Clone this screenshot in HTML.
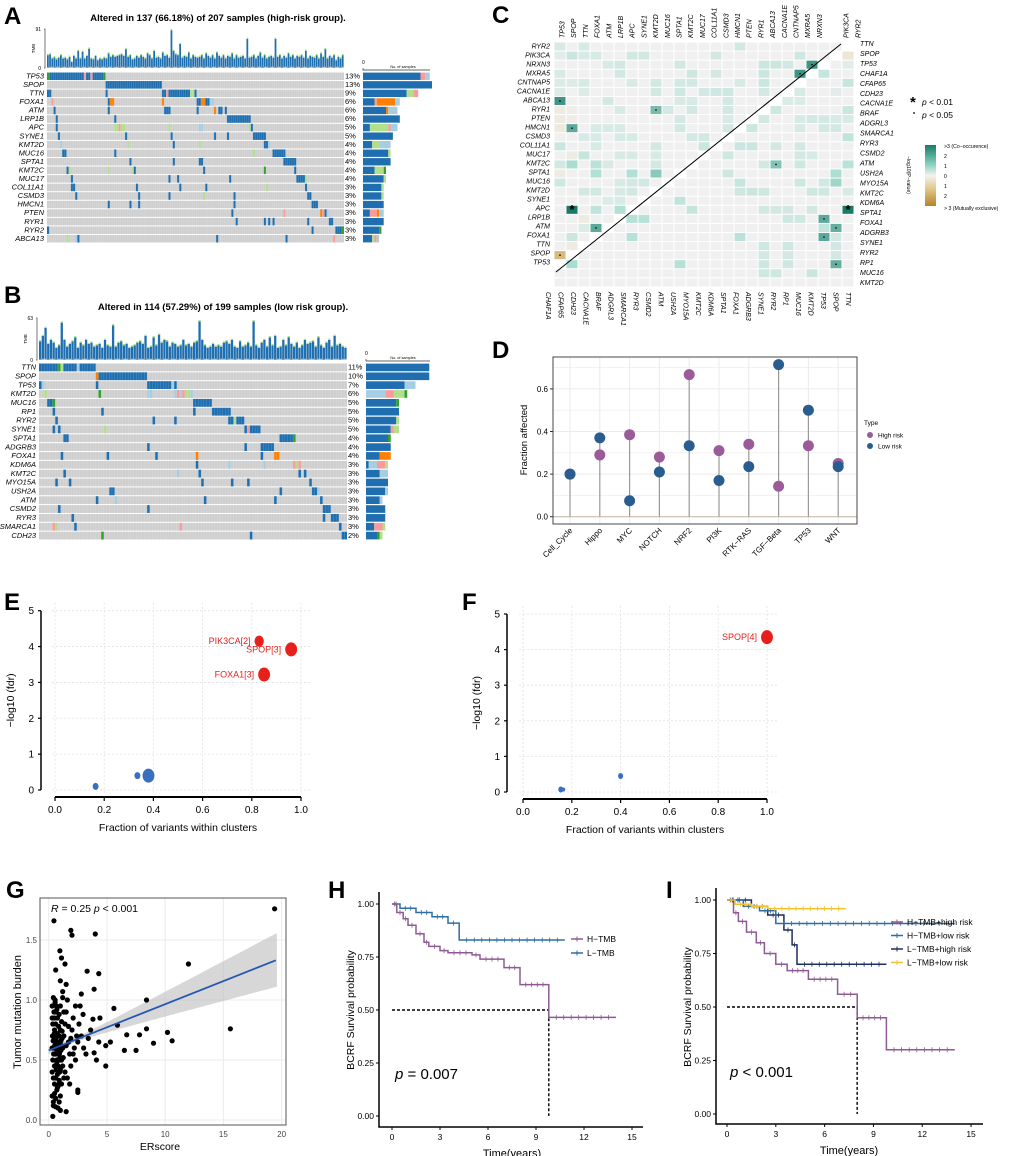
<!DOCTYPE html>
<html><head><meta charset="utf-8">
<style>
html,body{margin:0;padding:0;background:#fff;}
svg{display:block;font-family:"Liberation Sans",Arial,sans-serif;}
.nar{font-family:"Liberation Sans Narrow","Liberation Sans",sans-serif;}
</style></head>
<body>
<svg id="fig" width="1020" height="1156" viewBox="0 0 1020 1156" xmlns="http://www.w3.org/2000/svg">
<g font-weight="bold" font-size="24" fill="#000">
<text x="4" y="24">A</text>
<text x="4" y="303">B</text>
<text x="492" y="23">C</text>
<text x="492" y="358">D</text>
<text x="4" y="610">E</text>
<text x="462" y="610">F</text>
<text x="6" y="898">G</text>
<text x="328" y="898">H</text>
<text x="666" y="898">I</text>
</g>
</svg>
<script>
// ===== DATA =====
const colorMap = {b:'#1f6fb0', l:'#a6cee3', g:'#b2df8a', dg:'#33a02c', p:'#fb9a99', o:'#ff7f00'};
// Panel A
const genesA = ['TP53','SPOP','TTN','FOXA1','ATM','LRP1B','APC','SYNE1','KMT2D','MUC16','SPTA1','KMT2C','MUC17','COL11A1','CSMD3','HMCN1','PTEN','RYR1','RYR2','ABCA13'];
const pctA = ['13%','13%','9%','6%','6%','6%','5%','5%','4%','4%','4%','4%','4%','3%','3%','3%','3%','3%','3%','3%'];
const blocksA = [
 [[0,0,'dg'],[1,26,'b'],[17,17,'p'],[20,20,'p'],[26,26,'dg']],
 [[27,52,'b']],
 [[0,1,'b'],[27,27,'b'],[53,54,'b'],[55,55,'p'],[56,60,'b'],[61,65,'b'],[66,67,'g'],[68,68,'b']],
 [[2,2,'p'],[28,28,'b'],[29,30,'o'],[53,53,'o'],[69,70,'b'],[71,72,'o'],[73,74,'b'],[75,76,'l']],
 [[3,3,'b'],[28,28,'b'],[54,56,'b'],[69,69,'b'],[77,77,'o'],[79,80,'b'],[82,82,'b']],
 [[4,4,'b'],[31,31,'b'],[83,93,'b']],
 [[4,4,'b'],[31,32,'g'],[33,33,'p'],[34,35,'g'],[56,56,'g'],[70,71,'l'],[93,93,'g'],[94,94,'b']],
 [[5,5,'b'],[36,36,'b'],[57,57,'b'],[77,77,'b'],[83,83,'b'],[95,100,'b']],
 [[6,6,'l'],[37,37,'g'],[58,58,'b'],[70,70,'g'],[100,101,'b'],[102,102,'l']],
 [[7,8,'b'],[31,31,'b'],[95,95,'g'],[104,109,'b']],
 [[38,38,'b'],[58,58,'b'],[70,71,'b'],[109,114,'b']],
 [[9,9,'b'],[10,10,'g'],[28,28,'g'],[39,39,'g'],[40,40,'b'],[72,72,'b'],[100,100,'dg'],[114,114,'b']],
 [[11,11,'b'],[56,56,'b'],[60,60,'b'],[84,84,'b'],[115,118,'b'],[119,119,'g']],
 [[11,12,'b'],[41,41,'b'],[61,61,'b'],[73,73,'b'],[101,101,'g'],[119,119,'b']],
 [[13,13,'b'],[42,42,'b'],[56,56,'b'],[72,72,'g'],[86,86,'b'],[120,121,'b']],
 [[28,28,'b'],[38,38,'b'],[42,42,'b'],[86,86,'b'],[122,124,'b']],
 [[85,85,'b'],[109,109,'p'],[126,126,'o'],[127,127,'p'],[128,128,'b'],[129,129,'l']],
 [[87,87,'b'],[100,100,'b'],[102,102,'b'],[104,104,'b'],[120,120,'b'],[130,131,'b']],
 [[0,0,'b'],[122,122,'b'],[133,136,'b'],[136,136,'dg']],
 [[9,9,'g'],[13,13,'l'],[14,14,'b'],[78,78,'b'],[110,110,'b'],[132,132,'p']]
];
const tmbA = [30,32,22,25,20,24,30,22,24,20,26,14,28,22,40,22,38,22,28,45,22,20,28,18,22,20,24,22,34,26,30,26,28,30,32,28,44,26,30,20,22,28,24,30,26,22,34,30,22,40,24,26,22,36,28,30,24,88,40,32,30,56,24,28,26,36,22,30,26,24,26,30,22,34,28,24,30,22,36,28,24,30,22,28,26,34,22,30,24,26,28,22,68,24,26,30,22,28,36,24,30,22,26,28,24,68,26,30,22,28,24,34,26,30,22,28,26,30,24,40,22,28,26,24,30,22,34,26,44,22,28,24,30,18,26,22,30];
const sideA = [['b',25,'p',2,'l',2],['b',30],['b',19,'g',3,'p',2],['b',5,'p',1,'o',8,'l',2],['b',10,'o',1,'l',4],['b',16],['b',3,'g',8,'p',1,'l',3],['b',13],['b',4,'g',3,'l',5],['b',11,'g',1],['b',12],['b',5,'g',4,'dg',1],['b',9,'g',1],['b',8,'g',1],['b',8,'g',1],['b',9],['b',3,'p',3,'o',1,'l',2],['b',9],['b',7,'dg',1],['b',4,'g',1,'p',1,'l',1]];
// Panel B
const genesB = ['TTN','SPOP','TP53','KMT2D','MUC16','RP1','RYR2','SYNE1','SPTA1','ADGRB3','FOXA1','KDM6A','KMT2C','MYO15A','USH2A','ATM','CSMD2','RYR3','SMARCA1','CDH23'];
const pctB = ['11%','10%','7%','6%','5%','5%','5%','5%','4%','4%','4%','3%','3%','3%','3%','3%','3%','3%','3%','2%'];
const blocksB = [
 [[0,6,'b'],[7,7,'dg'],[8,8,'g'],[9,13,'b'],[14,14,'l'],[15,20,'b']],
 [[21,21,'o'],[22,39,'b']],
 [[0,0,'b'],[1,1,'l'],[21,21,'b'],[40,48,'b'],[49,49,'l'],[50,50,'b']],
 [[2,2,'g'],[22,22,'dg'],[40,41,'l'],[50,50,'l'],[51,51,'p'],[52,52,'l'],[53,53,'p'],[54,55,'g'],[56,56,'l']],
 [[3,4,'b'],[5,5,'dg'],[57,63,'b']],
 [[5,5,'b'],[23,23,'b'],[57,57,'b'],[64,70,'b']],
 [[6,6,'b'],[42,42,'b'],[50,50,'b'],[70,71,'b'],[72,72,'g'],[73,75,'b']],
 [[5,5,'b'],[7,7,'b'],[24,24,'g'],[76,76,'b'],[77,77,'p'],[78,81,'b']],
 [[9,10,'b'],[89,93,'b'],[94,94,'dg']],
 [[40,40,'b'],[76,76,'b'],[82,86,'b']],
 [[8,8,'b'],[25,25,'b'],[43,43,'b'],[58,58,'o'],[82,82,'b'],[87,88,'o']],
 [[58,58,'b'],[70,70,'l'],[83,83,'l'],[94,94,'p'],[95,95,'g'],[96,96,'p']],
 [[9,9,'b'],[51,51,'l'],[59,59,'b'],[96,96,'b'],[98,98,'b']],
 [[6,6,'b'],[11,11,'b'],[60,60,'b'],[71,71,'b'],[77,77,'b'],[100,100,'b']],
 [[26,27,'b'],[89,89,'b'],[101,102,'b'],[103,103,'l']],
 [[21,21,'b'],[28,28,'l'],[61,61,'b'],[87,87,'b'],[104,104,'b']],
 [[7,7,'b'],[40,40,'b'],[105,107,'b']],
 [[12,12,'b'],[105,105,'b'],[108,110,'b']],
 [[5,5,'p'],[6,6,'g'],[13,13,'b'],[52,52,'p'],[111,111,'b']],
 [[23,23,'dg'],[78,78,'b'],[112,113,'b']]
];
const tmbB = [28,36,48,24,30,26,18,22,56,30,20,24,28,34,18,26,22,30,24,26,20,22,24,18,30,22,20,52,20,26,28,22,24,18,20,22,26,28,24,36,18,20,34,22,38,26,30,28,20,26,24,20,22,30,22,24,20,26,28,58,30,22,18,20,24,20,22,20,26,28,24,30,20,18,28,20,22,26,20,58,22,18,26,30,20,34,22,36,18,20,30,22,34,24,20,26,18,22,30,24,26,28,20,34,22,18,26,30,20,36,22,24,20,18];
const sideB = [['b',23],['b',23],['b',14,'l',4],['l',7,'p',3,'g',4,'dg',1],['b',11,'dg',1],['b',12],['b',11,'g',1],['b',9,'p',1,'g',2],['b',8,'dg',1],['b',9],['b',5,'o',4],['b',1,'l',3,'p',3,'g',1],['b',5,'l',3],['b',8],['b',7,'l',1],['b',5,'l',1],['b',7],['b',7],['b',3,'p',3,'g',1],['b',4,'dg',1,'g',1]];
// Panel C
const cTopLabels = ['TP53','SPOP','TTN','FOXA1','ATM','LRP1B','APC','SYNE1','KMT2D','MUC16','SPTA1','KMT2C','MUC17','COL11A1','CSMD3','HMCN1','PTEN','RYR1','ABCA13','CACNA1E','CNTNAP5','MXRA5','NRXN3','PIK3CA','RYR2'];
const cLeftLabels = ['RYR2','PIK3CA','NRXN3','MXRA5','CNTNAP5','CACNA1E','ABCA13','RYR1','PTEN','HMCN1','CSMD3','COL11A1','MUC17','KMT2C','SPTA1','MUC16','KMT2D','SYNE1','APC','LRP1B','ATM','FOXA1','TTN','SPOP','TP53'];
const cRightLabels = ['TTN','SPOP','TP53','CHAF1A','CFAP65','CDH23','CACNA1E','BRAF','ADGRL3','SMARCA1','RYR3','CSMD2','ATM','USH2A','MYO15A','KMT2C','KDM6A','SPTA1','FOXA1','ADGRB3','SYNE1','RYR2','RP1','MUC16','KMT2D'];
const cBottomLabels = ['CHAF1A','CFAP65','CDH23','CACNA1E','BRAF','ADGRL3','SMARCA1','RYR3','CSMD2','ATM','USH2A','MYO15A','KMT2C','KDM6A','SPTA1','FOXA1','ADGRB3','SYNE1','RYR2','RP1','MUC16','KMT2D','TP53','SPOP','TTN'];
const hlRow = [0,0,0,1,1,1,1,1,1,1,1,2,2,2,2,2,2,2,3,3,3,3,3,3,4,4,4,4,4,4,4,4,4,5,5,5,5,5,5,5,5,6,6,6,6,6,7,7,7,7,7,7,7,8,8,8,8,9,9,9,9,9,9,9,10,10,10,10,10,10,11,11,11,11,12,12,12,12,12,13,13,13,13,13,14,14,14,14,15,15,15,15,16,16,16,16,17,17,18,18,18,19,20,20,21,22,23,
 1,2,3,4,5,5,6,6,7,7,8,8,8,8,8,8,9,9,9,9,10,11,11,11,11,12,12,12,13,13,13,13,14,14,15,15,15,15,16,16,16,16,16,16,17,18,18,18,18,18,18,19,19,19,19,19,20,20,21,21,21,21,22,22,22,23,23,23,24,24,24,24,24,25,25,25];
const hlCol = [0,2,15,0,1,2,3,6,7,13,20,4,5,10,17,18,19,21,0,5,11,13,17,20,0,1,2,6,8,10,11,15,17,0,2,8,10,12,13,14,17,0,4,10,11,14,0,1,5,8,9,11,14,0,1,10,14,0,1,3,4,5,10,14,2,3,5,6,11,12,0,3,8,12,1,2,5,6,8,0,1,3,4,8,0,3,6,8,0,5,6,7,2,3,5,6,4,5,1,3,5,2,2,3,1,1,0,
 24,24,22,24,20,23,19,20,18,24,17,20,21,22,23,24,16,20,22,23,24,15,16,18,20,14,20,21,17,18,20,24,14,23,15,20,22,23,15,16,17,21,22,24,10,11,17,18,19,21,24,6,7,19,20,22,22,23,6,15,22,23,17,19,23,17,19,23,1,10,17,19,23,17,18,21];
const hlVal = [0.5,0.5,0.6,0.3,0.8,0.5,0.5,0.6,0.6,0.6,0.7,0.5,0.6,0.6,0.8,0.8,0.6,2.6,0.5,0.6,0.7,0.6,0.8,2.6,0.4,0.4,0.5,0.5,0.6,0.6,0.6,0.5,0.8,0.4,0.4,0.6,0.7,0.6,0.7,0.7,0.6,2.6,0.6,0.5,0.5,0.6,-0.3,-0.2,0.5,2.0,0.6,0.6,0.6,-0.3,-0.2,0.6,0.5,-0.4,2.3,0.5,0.5,0.5,0.6,0.6,0.5,0.5,0.5,0.5,0.6,0.6,0.8,0.5,0.6,0.8,-0.3,0.9,0.5,0.5,0.5,0.6,1.5,1.1,0.5,0.6,-0.3,1.3,1.3,1.8,0.7,0.5,0.6,0.6,0.6,0.6,0.5,0.6,0.4,0.5,3.2,1.0,1.3,-0.3,0.4,2.3,0.8,-0.3,-2.0,
 -0.6,0.3,0.9,0.9,0.5,0.3,0.4,0.4,0.7,0.8,0.6,0.5,0.6,0.6,0.5,0.5,0.8,0.5,0.6,0.6,1.0,0.8,0.8,0.6,0.6,0.7,0.6,0.5,0.6,1.9,0.7,1.1,0.7,1.4,0.9,0.7,0.6,1.6,0.7,0.8,0.7,0.7,0.7,0.5,1.0,0.9,0.6,0.6,0.6,0.6,3.2,1.2,1.2,0.7,0.7,2.3,1.0,2.2,1.2,1.1,2.3,0.6,0.7,0.7,0.6,0.6,0.6,0.6,1.5,1.2,0.7,0.7,2.2,0.7,0.7,0.8];
// Panel D
const dCats = ['Cell_Cycle','Hippo','MYC','NOTCH','NRF2','PI3K','RTK\u2212RAS','TGF\u2212Beta','TP53','WNT'];
const dHigh = [0.2,0.29,0.385,0.28,0.667,0.31,0.34,0.143,0.333,0.25];
const dLow = [0.2,0.37,0.075,0.21,0.333,0.17,0.235,0.714,0.5,0.235];
const dTicks = [0,0.2,0.4,0.6];
// Panel E / F
const eX = [0.165,0.335,0.38,0.83,0.96,0.85];
const eY = [0.1,0.4,0.4,4.15,3.92,3.22];
const eSize = [3.5,3.5,7,5.5,7,7];
const eLabel = ['','','','PIK3CA[2]','SPOP[3]','FOXA1[3]'];
const fX = [0.155,0.166,0.40,1.0];
const fY = [0.07,0.07,0.45,4.35];
const fSize = [3,2,3,7];
const fLabel = ['','','','SPOP[4]'];
const efXTicks = [0,0.2,0.4,0.6,0.8,1.0];
const efYTicks = [0,1,2,3,4,5];
// Panel G
const gX = [19.4,0.45,1.9,2.0,4.0,0.96,1.1,0.6,1.4,3.3,4.3,1.0,1.5,2.8,3.9,1.2,12.0,8.4,5.6,15.6,10.2,10.6,9.0,8.4,6.7,7.8,6.5,7.5,5.3,4.9,4.3,3.9,4.1,4.9,2.5,2.5,1.5,1.0,0.35,0.6,3.8,4.4,2.95,2.7,5.9,
 0.3,0.4,0.5,0.6,0.7,0.8,0.9,1.0,0.35,0.45,0.55,0.65,0.75,0.85,0.95,1.1,1.2,1.3,1.4,1.5,1.6,1.7,1.8,1.9,2.0,2.1,2.2,2.3,2.4,0.3,0.4,0.5,0.6,0.7,0.8,0.9,1.0,1.1,1.2,1.3,0.35,0.45,0.55,0.65,0.75,0.85,0.95,1.05,1.15,1.25,0.3,0.5,0.7,0.9,0.4,0.6,0.8,1.0,1.2,0.5,0.7,0.9,1.1,1.3,1.5,1.7,1.9,2.1,2.3,2.5,2.6,2.8,3.0,3.2,3.4,3.6,0.3,0.4,0.6,0.8,1.0,1.4,1.6,1.8,0.5,0.65,0.75,0.95,1.05,1.15,0.32,0.42,0.52,0.62,0.72,0.82,0.92,1.02,0.38,0.48,0.3,0.5,0.7,0.9,1.1,0.4,0.6,0.8,0.55,0.75];
const gY = [1.76,1.66,1.58,1.54,1.55,1.41,1.35,1.25,1.30,1.24,1.22,1.16,1.13,1.05,1.09,1.07,1.30,1.0,0.93,0.76,0.73,0.66,0.64,0.76,0.71,0.71,0.58,0.58,0.65,0.62,0.65,0.56,0.5,0.45,0.25,0.23,0.07,0.08,0.03,0.11,0.84,0.85,0.88,0.95,0.79,
 0.2,0.35,0.45,0.55,0.6,0.65,0.7,0.75,0.8,0.9,1.0,0.95,0.85,0.5,0.4,0.3,0.6,0.7,0.8,0.9,1.0,0.65,0.55,0.45,0.75,0.85,0.6,0.95,0.7,0.6,0.7,0.75,0.8,0.5,0.4,0.3,0.2,0.5,0.45,0.35,0.5,0.6,0.65,0.7,0.72,0.78,0.62,0.58,0.68,0.52,0.4,0.3,0.25,0.15,0.12,0.18,0.1,0.95,1.02,0.85,0.92,0.88,0.82,0.9,0.62,0.78,0.68,0.55,0.5,0.65,0.8,0.7,0.6,0.55,0.68,0.75,0.95,1.02,0.35,0.28,0.42,0.4,0.35,0.3,0.55,0.42,0.38,0.52,0.66,0.74,0.7,0.55,0.62,0.68,0.58,0.6,0.55,0.5,0.66,0.72,0.85,0.22,0.48,0.33,0.62,0.15,0.9,0.45,0.98,0.27];
const gXTicks = [0,5,10,15,20];
const gYTicks = [0,0.5,1.0,1.5];
const gIntercept = 0.58, gSlope = 0.0385;
// Panel H
const kmTicksX = [0,3,6,9,12,15];
const kmTicksY = [0,0.25,0.5,0.75,1.0];
const hHighT = [0,0.3,0.7,1.0,1.5,2.0,2.3,3.0,3.5,5.0,5.5,7.0,8.0,9.8,14];
const hHighS = [1,0.96,0.93,0.90,0.86,0.82,0.80,0.78,0.77,0.76,0.74,0.70,0.62,0.465,0.465];
const hLowT = [0,0.5,1.5,2.5,3.5,4.2,10.8];
const hLowS = [1,0.98,0.96,0.94,0.91,0.83,0.83];
const hMedian = 9.8;
// Panel I
const iHHT = [0,0.4,0.7,1.2,1.8,2.3,3.0,3.7,5.0,6.8,8.0,9.8,14];
const iHHS = [1,0.94,0.90,0.85,0.80,0.75,0.70,0.67,0.63,0.56,0.45,0.30,0.30];
const iHLT = [0,1.0,2.0,3.0,14];
const iHLS = [1,0.97,0.95,0.89,0.89];
const iLHT = [0,1.5,2.5,3.5,4.0,4.3,9.8];
const iLHS = [1,0.97,0.93,0.86,0.79,0.70,0.70];
const iLLT = [0,0.5,1.5,2.5,7.3];
const iLLS = [1,0.98,0.97,0.96,0.96];
const iMedian = 8.0;

// ===== HELPERS =====
const NS = 'http://www.w3.org/2000/svg';
const svg = document.getElementById('fig');
function mk(tag, attrs, parent){
  const e = document.createElementNS(NS, tag);
  for (const k in attrs) e.setAttribute(k, attrs[k]);
  (parent || svg).appendChild(e);
  return e;
}
function tx(x, y, s, attrs, parent){
  const e = mk('text', Object.assign({x:x, y:y}, attrs || {}), parent);
  e.textContent = s;
  return e;
}
function grp(name){
  const g = mk('g', {});
  
  
  return g;
}

// ===== ONCOPLOT =====
function oncoplot(opt){
  const g = grp(opt.name);
  const t = tx(opt.titleX, opt.titleY, opt.title, {'font-size':9.5,'font-weight':'bold','text-anchor':'middle'}, g);
  
  
  const n = opt.n, gx0 = opt.x0, gx1 = opt.x1, cw = (gx1-gx0)/n;
  const rh = (opt.y1-opt.y0)/opt.genes.length;
  // TMB bars
  const tg = mk('g', {}, g);
  
  
  const tScale = v => opt.tmbBase - v/opt.tmbMax*(opt.tmbBase-opt.tmbTop);
  const bw = (gx1-gx0)/opt.tmb.length;
  opt.tmb.forEach((v,i)=>{
    const y = tScale(v), x = gx0 + i*bw;
    const r = mk('rect', {x:x, y:y, width:Math.max(bw-0.4,0.5), height:opt.tmbBase-y, fill:'#1f6fb0'}, tg);
    
    
    const tip = mk('rect', {x:x, y:y-1.3, width:Math.max(bw-0.4,0.5), height:1.3, fill:'#b2df8a'}, tg);
    
    
    const bot = mk('rect', {x:x, y:opt.tmbBase-1.2, width:Math.max(bw-0.4,0.5), height:1.2, fill:(i%3? '#a6cee3':'#ff7f00')}, tg);
    
    
  });
  const ax = mk('path', {d:`M${gx0-3},${opt.tmbTop} H${gx0-2} V${opt.tmbBase} H${gx0-3}`, stroke:'#555', fill:'none', 'stroke-width':0.8}, g);
  
  
  const l1 = tx(gx0-6, opt.tmbTop+2, String(opt.tmbMax), {'font-size':5,'text-anchor':'end'}, g);
  
  
  const l0 = tx(gx0-6, opt.tmbBase+2, '0', {'font-size':5,'text-anchor':'end'}, g);
  
  
  const lt = tx(0, 0, 'TMB', {'font-size':4.5,'text-anchor':'middle', transform:`translate(${gx0-12},${(opt.tmbTop+opt.tmbBase)/2}) rotate(-90)`}, g);
  
  
  // grid rows
  opt.genes.forEach((gn,r)=>{
    const y = opt.y0 + r*rh;
    const bg = mk('rect', {x:gx0, y:y+0.5, width:gx1-gx0, height:rh-1, fill:'#cfcfcf'}, g);
    
    
    opt.blocks[r].forEach(b=>{
      const c = mk('rect', {x:gx0+b[0]*cw, y:y+0.5, width:(b[1]-b[0]+1)*cw, height:rh-1, fill:colorMap[b[2]]}, g);
      
      
    });
    const gl = tx(gx0-3, y+rh*0.75, gn, {'font-size':7.5,'font-style':'italic','text-anchor':'end'}, g);
    
    
    const pl = tx(gx1+1, y+rh*0.75, opt.pct[r], {'font-size':7.5}, g);
    
    
    // side bar
    let sx = opt.sideX;
    const sd = opt.side[r];
    for (let k=0;k<sd.length;k+=2){
      const w = sd[k+1]*opt.sideScale;
      const sr = mk('rect', {x:sx, y:y+0.6, width:w, height:rh-1.2, fill:colorMap[sd[k]]}, g);
      
      
      sx += w;
    }
  });
  // column separators
  const cols = mk('g', {stroke:'#ffffff', 'stroke-opacity':0.35, 'stroke-width':0.35}, g);
  
  
  let d = '';
  for (let i=1;i<n;i++){ const x = gx0+i*cw; d += `M${x.toFixed(2)},${opt.y0} V${opt.y1} `; }
  mk('path', {d:d, fill:'none'}, cols);
  const sa = mk('path', {d:`M${opt.sideX},${opt.sideAxisY-2} V${opt.sideAxisY} H430`, stroke:'#333', 'stroke-width':0.7, fill:'none'}, g);
  
  
  const s0 = tx(opt.sideX-1, opt.sideAxisY-6, '0', {'font-size':5}, g);
  
  
  const st = tx(403, opt.sideAxisY-2, 'No. of samples', {'font-size':3.8,'text-anchor':'middle'}, g);
  
  
}
oncoplot({name:'panel-a-oncoplot', title:'Altered in 137 (66.18%) of 207 samples (high-risk group).', titleX:218, titleY:21,
  n:137, x0:47, x1:344, y0:72, y1:243, genes:genesA, pct:pctA, blocks:blocksA, tmb:tmbA, tmbMax:91, tmbTop:29, tmbBase:68,
  side:sideA, sideX:363, sideScale:2.3, sideAxisY:70});
oncoplot({name:'panel-b-oncoplot', title:'Altered in 114 (57.29%) of 199 samples (low risk group).', titleX:223, titleY:310,
  n:114, x0:39, x1:347, y0:363, y1:540, genes:genesB, pct:pctB, blocks:blocksB, tmb:tmbB, tmbMax:63, tmbTop:318, tmbBase:360,
  side:sideB, sideX:366, sideScale:2.75, sideAxisY:361});

// ===== PANEL C =====
(function(){
  const g = grp('panel-c-cooccurrence-heatmap');
  const x0 = 554, y0 = 42, cw = 12, rh = 9.07, nc = 25, nr = 27;
  function col(v){
    const a = Math.min(Math.abs(v)/3,1);
    const base=[240,240,240];
    const tgt = v>=0 ? (a<0.5?[168,221,208]:[26,122,106]) : (a<0.5?[232,214,170]:[181,131,42]);
    const from = v>=0 ? (a<0.5?base:[168,221,208]) : (a<0.5?base:[232,214,170]);
    const f = a<0.5 ? a/0.5 : (a-0.5)/0.5;
    return 'rgb(' + from.map((b,i)=>Math.round(b+(tgt[i]-b)*f)).join(',') + ')';
  }
  const vals = {};
  hlRow.forEach((r,i)=>{ vals[r+'_'+hlCol[i]] = i; });
  for (let r=0;r<nr;r++){
    for (let c=0;c<nc;c++){
      const upper = (c <= 23 - r) && r < 25;
      const lower = (c >= 25 - r);
      if (!upper && !lower) continue;
      const key = r+'_'+c;
      const v = key in vals ? hlVal[vals[key]] : 0;
      const cell = mk('rect', {x:x0+c*cw+0.5, y:y0+r*rh+0.5, width:cw-1, height:rh-1, fill:col(v)}, g);
      
      
      if (key in vals){
        const v2 = hlVal[vals[key]];
        if (Math.abs(v2) >= 3){
          const s = tx(x0+c*cw+cw/2, y0+r*rh+rh*0.95, '*', {'font-size':13,'text-anchor':'middle','font-weight':'bold'}, g);
          
          
        } else if (Math.abs(v2) >= 1.9){
          const dt = mk('circle', {cx:x0+c*cw+cw/2, cy:y0+r*rh+rh/2, r:0.8, fill:'#000'}, g);
          
          
        }
      }
    }
  }
  const dl = mk('line', {x1:556, y1:272, x2:841, y2:44, stroke:'#000', 'stroke-width':1}, g);
  
  
  cTopLabels.forEach((s,i)=>{
    const x = i < 23 ? 562 + i*11.7 : (i===23 ? 846 : 858);
    const t = tx(0,0,s,{'font-size':7,'font-style':'italic', transform:`translate(${x+2.5},38) rotate(-90)`}, g);
    
    
  });
  cLeftLabels.forEach((s,i)=>{
    const t = tx(550, 48.5 + i*9.0, s, {'font-size':7,'font-style':'italic','text-anchor':'end'}, g);
    
    
  });
  cRightLabels.forEach((s,i)=>{
    const t = tx(860, 46 + i*9.95, s, {'font-size':7,'font-style':'italic'}, g);
    
    
  });
  cBottomLabels.forEach((s,i)=>{
    const t = tx(0,0,s,{'font-size':7,'font-style':'italic', transform:`translate(${546+i*12.5},292) rotate(90)`}, g);
    
    
  });
  const lg = mk('g', {}, g);
  
  
  tx(910, 107, '*', {'font-size':15,'font-weight':'bold'}, lg);
  const p1 = tx(922, 105, 'p < 0.01', {'font-size':8.5}, lg);
  p1.innerHTML = '<tspan font-style="italic">p</tspan> &lt; 0.01';
  mk('circle', {cx:914, cy:113, r:0.9, fill:'#000'}, lg);
  const p2 = tx(922, 118, '', {'font-size':8.5}, lg);
  p2.innerHTML = '<tspan font-style="italic">p</tspan> &lt; 0.05';
  const defs = mk('defs', {}, g);
  const lgr = mk('linearGradient', {id:'cbar', x1:0, y1:0, x2:0, y2:1}, defs);
  [['0','#1a7a6a'],['0.3','#7fcdb9'],['0.5','#f2f2f2'],['0.7','#e3cc92'],['1','#b5832a']].forEach(s=>mk('stop',{offset:s[0],'stop-color':s[1]},lgr));
  const cb = mk('rect', {x:925, y:145, width:11, height:61, fill:'url(#cbar)'}, g);
  
  
  const cbl = [['>3 (Co\u2212occurence)',148],['2',158],['1',168],['0',178],['1',188],['2',198],['> 3 (Mutually exclusive)',210]];
  cbl.forEach(a=>{
    const t = tx(944, a[1], a[0], {'font-size':5.2}, g);
    
    
  });
  const ct = tx(0,0,'\u2212log10(P\u2212value)',{'font-size':5.2,'text-anchor':'middle',transform:'translate(907,175) rotate(90)'}, g);
  
  
})();

// ===== PANEL D =====
(function(){
  const g = grp('panel-d-pathway-lollipop');
  const px0 = 553, px1 = 857, py0 = 357, py1 = 524;
  const xs = i => 570 + i*29.8;
  const ys = v => 516.7 - v/0.2*42.6;
  for (let v=0; v<=0.7; v+=0.1){
    const gl = mk('line', {x1:px0, x2:px1, y1:ys(v), y2:ys(v), stroke:'#ebebeb', 'stroke-width': (Math.round(v*10)%2===0)?1:0.6}, g);
    
    
  }
  dCats.forEach((c,i)=>{
    const gl = mk('line', {x1:xs(i), x2:xs(i), y1:py0, y2:py1, stroke:'#ebebeb', 'stroke-width':1}, g);
    
    
  });
  const zl = mk('line', {x1:px0, x2:px1, y1:ys(0), y2:ys(0), stroke:'#c8b8a8', 'stroke-width':1}, g);
  
  
  dCats.forEach((c,i)=>{
    const top = Math.max(dHigh[i], dLow[i]);
    const st = mk('line', {x1:xs(i), x2:xs(i), y1:ys(0), y2:ys(top), stroke:'#9a9a9a', 'stroke-width':1.2}, g);
    
    
    const h = mk('circle', {cx:xs(i), cy:ys(dHigh[i]), r:5.5, fill:'#9b5b98'}, g);
    
    
    const l = mk('circle', {cx:xs(i), cy:ys(dLow[i]), r:5.5, fill:'#2a5d8f'}, g);
    
    
    const t = tx(0,0,c,{'font-size':8,'text-anchor':'end',transform:`translate(${xs(i)+3},${py1+7}) rotate(-45)`}, g);
    
    
  });
  const box = mk('rect', {x:px0, y:py0, width:px1-px0, height:py1-py0, fill:'none', stroke:'#333', 'stroke-width':0.9}, g);
  
  
  dTicks.forEach(v=>{
    const tk = mk('line', {x1:px0-3, x2:px0, y1:ys(v), y2:ys(v), stroke:'#333'}, g);
    
    
    const t = tx(px0-5, ys(v)+3, v.toFixed(1), {'font-size':8,'text-anchor':'end'}, g);
    
    
  });
  const yt = tx(0,0,'Fraction affected',{'font-size':9.5,'text-anchor':'middle',transform:'translate(527,440) rotate(-90)'}, g);
  
  
  const lt = tx(864, 425, 'Type', {'font-size':6.5}, g);
  
  
  const e1 = mk('circle', {cx:870, cy:435, r:3, fill:'#9b5b98'}, g);
  
  
  const t1 = tx(878, 437.5, 'High risk', {'font-size':6.5}, g);
  
  
  const e2 = mk('circle', {cx:870, cy:446, r:3, fill:'#2a5d8f'}, g);
  
  
  const t2 = tx(878, 448.5, 'Low risk', {'font-size':6.5}, g);
  
  
})();

// ===== PANELS E/F =====
function cluster(name, ax, x0v, x1v, yTop, yBot, gx0, gx1, xs_, ys_, ss, ls){
  const g = grp(name);
  const X = v => x0v + v*(x1v-x0v);
  const Y = v => yBot - v*(yBot-yTop)/5;
  efYTicks.forEach(v=>{
    const gl = mk('line', {x1:gx0, x2:gx1, y1:Y(v), y2:Y(v), stroke:'#e2e2e2', 'stroke-dasharray':'2,2', 'stroke-width':0.8}, g);
    
    
    const tk = mk('line', {x1:ax-3, x2:ax, y1:Y(v), y2:Y(v), stroke:'#000', 'stroke-width':1.2}, g);
    
    
    const t = tx(ax-7, Y(v)+3.5, String(v), {'font-size':10,'text-anchor':'end','class':'nar'}, g);
    
    
  });
  efXTicks.forEach(v=>{
    const gl = mk('line', {x1:X(v), x2:X(v), y1:yTop-8, y2:yBot+5, stroke:'#e2e2e2', 'stroke-dasharray':'2,2', 'stroke-width':0.8}, g);
    
    
    const tk = mk('line', {x1:X(v), x2:X(v), y1:yBot+7, y2:yBot+11, stroke:'#000', 'stroke-width':1.2}, g);
    
    
    const t = tx(X(v), yBot+23, v.toFixed(1), {'font-size':10,'text-anchor':'middle','class':'nar'}, g);
    
    
  });
  const ya = mk('line', {x1:ax, x2:ax, y1:Y(5), y2:Y(0), stroke:'#000', 'stroke-width':1.5}, g);
  
  
  const xa = mk('line', {x1:X(0), x2:X(1), y1:yBot+7, y2:yBot+7, stroke:'#000', 'stroke-width':2}, g);
  
  
  xs_.forEach((v,i)=>{
    const red = ls[i] !== '';
    const c = mk('ellipse', {cx:X(v), cy:Y(ys_[i]), rx:ss[i]*0.85, ry:ss[i], fill: red ? '#e8201c' : '#3a6fbf'}, g);
    
    
    if (red){
      const t = tx(X(v)-ss[i]-3, Y(ys_[i])+3, ls[i], {'font-size':9,'text-anchor':'end','fill':'#e8201c','class':'nar'}, g);
      
      
    }
  });
  const yt = tx(0,0,'\u2212log10 (fdr)',{'font-size':10.5,'text-anchor':'middle',transform:`translate(${ax-27},${(yTop+yBot)/2}) rotate(-90)`}, g);
  
  
  const xt = tx((X(0)+X(1))/2, yBot+41, 'Fraction of variants within clusters', {'font-size':10.5,'text-anchor':'middle','class':'nar'}, g);
  
  
}
cluster('panel-e-cluster-plot', 41, 55, 301, 610.7, 790, 52, 310, eX, eY, eSize, eLabel);
cluster('panel-f-cluster-plot', 507, 523, 767, 614, 792, 519, 777, fX, fY, fSize, fLabel);

// ===== PANEL G =====
(function(){
  const g = grp('panel-g-scatter');
  const px0 = 40, px1 = 286, py0 = 898, py1 = 1125;
  const X = v => 48.7 + v*11.645;
  const Y = v => 1120 - v*120;
  gYTicks.forEach(v=>{
    const gl = mk('line', {x1:px0, x2:px1, y1:Y(v), y2:Y(v), stroke:'#ebebeb', 'stroke-width':1}, g);
    
    
    const t = tx(px0-3, Y(v)+3, v.toFixed(1), {'font-size':8,'text-anchor':'end','class':'nar','fill':'#444'}, g);
    
    
  });
  gXTicks.forEach(v=>{
    const gl = mk('line', {x1:X(v), x2:X(v), y1:py0, y2:py1, stroke:'#ebebeb', 'stroke-width':1}, g);
    
    
    const t = tx(X(v), py1+12, String(v), {'font-size':8,'text-anchor':'middle','class':'nar','fill':'#444'}, g);
    
    
  });
  let up = '', lo = '';
  for (let x=0; x<=19.6; x+=0.4){
    const m = gIntercept + gSlope*x, se = Math.sqrt(0.0004 + 0.00016*(x-2)*(x-2));
    up += (up?'L':'M') + X(x).toFixed(1) + ',' + Y(m+se).toFixed(1);
    lo = 'L' + X(x).toFixed(1) + ',' + Y(m-se).toFixed(1) + lo;
  }
  const band = mk('path', {d:up+lo+'Z', fill:'#bdbdbd', 'fill-opacity':0.6}, g);
  
  
  gX.forEach((v,i)=>{
    const c = mk('circle', {cx:X(v), cy:Y(gY[i]), r:2.6, fill:'#000'}, g);
    
    
  });
  const rl = mk('line', {x1:X(0), y1:Y(gIntercept), x2:X(19.5), y2:Y(gIntercept+gSlope*19.5), stroke:'#2457b3', 'stroke-width':1.8}, g);
  
  
  const box = mk('rect', {x:px0, y:py0, width:px1-px0, height:py1-py0, fill:'none', stroke:'#555', 'stroke-width':1}, g);
  
  
  const rt = tx(51, 912, '', {'font-size':10.5,'class':'nar'}, g);
  rt.innerHTML = '<tspan font-style="italic">R</tspan> = 0.25  <tspan font-style="italic">p</tspan> &lt; 0.001';
  
  
  const yt = tx(0,0,'Tumor mutation burden',{'font-size':11,'text-anchor':'middle',transform:'translate(21,1012) rotate(-90)'}, g);
  
  
  const xt = tx(160, 1150, 'ERscore', {'font-size':10.5,'text-anchor':'middle','class':'nar'}, g);
  
  
})();

// ===== KM PANELS =====
function km(name, ax, axY, xRight, X, Y, curves, median, legend, pText, pX, pY){
  const g = grp(name);
  const a = mk('path', {d:`M${ax},${Y(1)-12} V${axY} H${xRight}`, stroke:'#000', 'stroke-width':1.5, fill:'none'}, g);
  
  
  kmTicksY.forEach(v=>{
    const tk = mk('line', {x1:ax-3, x2:ax, y1:Y(v), y2:Y(v), stroke:'#000'}, g);
    
    
    const t = tx(ax-5, Y(v)+3, v.toFixed(2), {'font-size':8.5,'text-anchor':'end','class':'nar'}, g);
    
    
  });
  kmTicksX.forEach(v=>{
    const tk = mk('line', {x1:X(v), x2:X(v), y1:axY, y2:axY+3, stroke:'#000'}, g);
    
    
    const t = tx(X(v), axY+13, String(v), {'font-size':8.5,'text-anchor':'middle','class':'nar'}, g);
    
    
  });
  const md = mk('path', {d:`M${X(0)},${Y(0.5)} H${X(median)} V${Y(0)}`, stroke:'#000', 'stroke-width':1.4, 'stroke-dasharray':'3,2', fill:'none'}, g);
  
  
  curves.forEach(cv=>{
    let d = `M${X(cv.t[0])},${Y(cv.s[0])}`;
    for (let i=1;i<cv.t.length;i++){ d += ` H${X(cv.t[i]).toFixed(1)} V${Y(cv.s[i]).toFixed(1)}`; }
    const p = mk('path', {d:d, stroke:cv.c, 'stroke-width':1.5, fill:'none'}, g);
    
    
    let cd = '';
    for (let i=0;i<cv.t.length-1;i++){
      const dt = cv.t[i+1]-cv.t[i];
      const k = Math.max(1, Math.round(dt*2));
      for (let j=1;j<=k;j++){ const x = X(cv.t[i]+dt*j/(k+1)); cd += `M${x.toFixed(1)},${(Y(cv.s[i])-2.5).toFixed(1)} v5 `; }
    }
    const cm = mk('path', {d:cd, stroke:cv.c, 'stroke-width':0.8, fill:'none'}, g);
    
    
  });
  legend.items.forEach((it,i)=>{
    const y = legend.y + i*legend.dy;
    const l = mk('line', {x1:legend.x, x2:legend.x+12, y1:y, y2:y, stroke:it[1], 'stroke-width':1.5}, g);
    
    
    const c = mk('line', {x1:legend.x+6, x2:legend.x+6, y1:y-2.5, y2:y+2.5, stroke:it[1], 'stroke-width':1}, g);
    
    
    const t = tx(legend.x+16, y+3, it[0], {'font-size':8.5,'class':'nar'}, g);
    
    
  });
  const pt = tx(pX, pY, '', {'font-size':15,'class':'nar'}, g);
  pt.innerHTML = '<tspan font-style="italic">p</tspan> ' + pText;
  
  
  const yt = tx(0,0,'BCRF Survival probability',{'font-size':10.5,'text-anchor':'middle',transform:`translate(${ax-25},${(Y(0)+Y(1))/2}) rotate(-90)`}, g);
  
  
  const xt = tx((X(0)+X(15))/2, axY+30, 'Time(years)', {'font-size':11,'text-anchor':'middle','class':'nar'}, g);
  
  
}
km('panel-h-km-tmb', 379, 1127, 643, t=>392+t*16, s=>1116-s*212,
  [{t:hLowT, s:hLowS, c:'#2e6da4', n:'l-tmb-curve'},{t:hHighT, s:hHighS, c:'#8e5a93', n:'h-tmb-curve'}],
  hMedian, {x:571, y:939, dy:14, items:[['H\u2212TMB','#8e5a93'],['L\u2212TMB','#2e6da4']]}, '= 0.007', 395, 1079);
km('panel-i-km-tmb-risk', 716, 1124, 983, t=>727+t*16.27, s=>1114-s*214,
  [{t:iHHT, s:iHHS, c:'#8e5a93', n:'h-tmb-high-risk-curve'},{t:iLHT, s:iLHS, c:'#1d2f5e', n:'l-tmb-high-risk-curve'},{t:iHLT, s:iHLS, c:'#2e6da4', n:'h-tmb-low-risk-curve'},{t:iLLT, s:iLLS, c:'#f2c12e', n:'l-tmb-low-risk-curve'}],
  iMedian, {x:891, y:922, dy:13.5, items:[['H\u2212TMB+high risk','#8e5a93'],['H\u2212TMB+low risk','#2e6da4'],['L\u2212TMB+high risk','#1d2f5e'],['L\u2212TMB+low risk','#f2c12e']]}, '&lt; 0.001', 730, 1077);
</script>
</body></html>
